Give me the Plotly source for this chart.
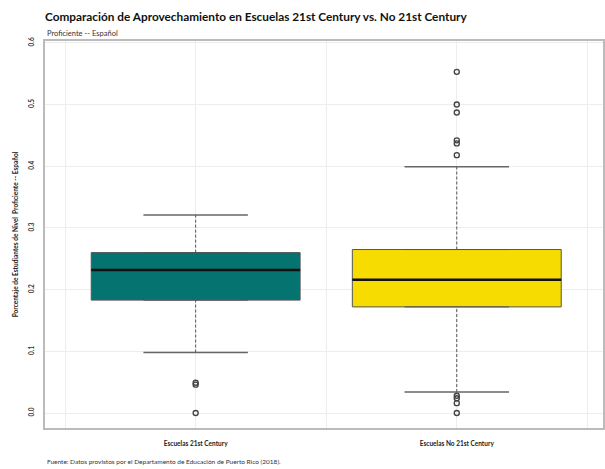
import plotly.graph_objects as go

categories = ["Escuelas 21st Century", "Escuelas No 21st Century"]
q1 = [0.183, 0.172]
median = [0.232, 0.216]
q3 = [0.260, 0.265]
lower_whisker = [0.098, 0.034]
upper_whisker = [0.321, 0.399]
outliers = [
    [0.049, 0.046, 0.0],
    [0.553, 0.500, 0.487, 0.442, 0.437, 0.418, 0.028, 0.024, 0.016, 0.0],
]
fill_colors = ["#05736F", "#F7DC02"]

title = "Comparación de Aprovechamiento en Escuelas 21st Century vs. No 21st Century"
subtitle = "Proficiente -- Español"
y_title = "Porcentaje de Estudiantes de Nivel  Proficiente -- Español"
caption = "Fuente: Datos provistos por el Departamento de Educación de Puerto Rico (2018)."
y_ticks = [0.0, 0.1, 0.2, 0.3, 0.4, 0.5, 0.6]

FONT = "Lato"
BOX_W = 0.8
CAP_W = 0.4
PLOT_H = 469 - 41 - 41
pos = list(range(len(categories)))

fig = go.Figure()

for i, p in enumerate(pos):
    # dashed whiskers
    for a, b in [(q3[i], upper_whisker[i]), (lower_whisker[i], q1[i])]:
        fig.add_trace(go.Scatter(x=[p, p], y=[a, b], mode="lines",
                                 line=dict(color="#555555", width=1, dash="3px,2px"),
                                 hoverinfo="skip", showlegend=False))
    # caps
    for v in [upper_whisker[i], lower_whisker[i]]:
        fig.add_trace(go.Scatter(x=[p - CAP_W / 2, p + CAP_W / 2], y=[v, v], mode="lines",
                                 line=dict(color="#666666", width=1.5),
                                 hoverinfo="skip", showlegend=False))

for i, p in enumerate(pos):
    fig.add_trace(go.Box(x=[p], q1=[q1[i]], median=[median[i]], q3=[q3[i]],
                         lowerfence=[q1[i]], upperfence=[q3[i]],
                         width=BOX_W, fillcolor=fill_colors[i],
                         line=dict(color="#555555", width=1),
                         boxpoints=False, showlegend=False, name=categories[i]))
    fig.add_trace(go.Scatter(x=[p - BOX_W / 2, p + BOX_W / 2], y=[median[i], median[i]],
                             mode="lines", line=dict(color="#111111", width=2.5),
                             hoverinfo="skip", showlegend=False))
    fig.add_trace(go.Scatter(x=[p] * len(outliers[i]), y=outliers[i], mode="markers",
                             marker=dict(symbol="circle-open", size=5, color="#444444",
                                         line=dict(width=1.4, color="#444444")),
                             showlegend=False))

fig.update_layout(
    width=605, height=469,
    margin=dict(l=45, r=2, t=41, b=41, pad=0),
    paper_bgcolor="white", plot_bgcolor="white",
    font=dict(family=FONT, color="#222222"),
    title=dict(text="<b>" + title + "</b>", x=45 / 605, xref="container", xanchor="left",
               y=1 - 17 / 469, yref="container", yanchor="middle", automargin=False,
               font=dict(size=11.8, color="#111111", family=FONT)),
    xaxis=dict(range=[-0.577, 1.56], tickvals=pos, automargin=False,
               ticktext=["<b>" + c + "</b>" for c in categories],
               tickfont=dict(size=6.5, color="#222222"),
               showgrid=True, gridcolor="#EDEDED", gridwidth=1,
               minor=dict(tickvals=[-0.5, 0.5, 1.5], showgrid=True, gridcolor="#EDEDED", gridwidth=1),
               zeroline=False, showline=True, linecolor="#BBBBBB", linewidth=1.5, mirror=True,
               ticks="", ticklabelstandoff=8),
    yaxis=dict(range=[-0.0243, 0.603], tickvals=y_ticks, automargin=False,
               ticktext=["<b>%.1f</b>" % v for v in y_ticks],
               tickangle=-90, tickfont=dict(size=6.5, color="#333333"),
               showgrid=True, gridcolor="#EDEDED", gridwidth=1,
               zeroline=False, showline=True, linecolor="#BBBBBB", linewidth=1.5, mirror=True,
               ticks="", ticklabelstandoff=7,
               title=dict(text="<b>" + y_title + "</b>", font=dict(size=6.5, color="#222222"),
                          standoff=8)),
    annotations=[
        dict(text=subtitle, x=0, y=1 + 8 / PLOT_H, xref="paper", yref="paper",
             xanchor="left", yanchor="middle", showarrow=False,
             font=dict(size=7.5, color="#333333")),
        dict(text=caption, x=0, y=-33 / PLOT_H, xref="paper", yref="paper",
             xanchor="left", yanchor="middle", showarrow=False,
             font=dict(size=6.5, color="#333333")),
    ],
)

fig.write_html("out.html", config={"displayModeBar": False},
               post_script="document.body.style.margin='0px';document.body.style.overflow='hidden';")
